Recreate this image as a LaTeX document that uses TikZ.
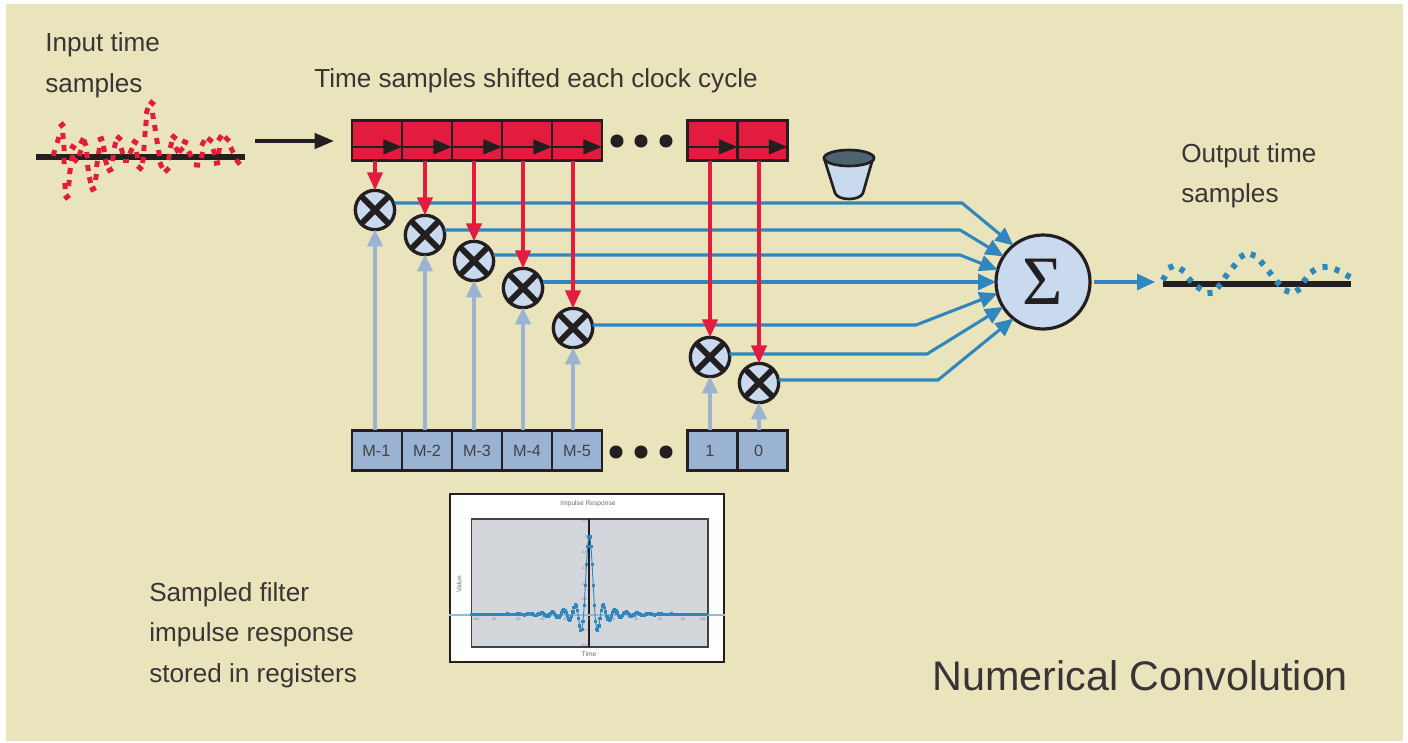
\documentclass[tikz,border=0pt]{standalone}
\usepackage{fontspec}
\setmainfont{Liberation Sans}
\newfontfamily\sigmafont{Liberation Serif}
\usetikzlibrary{arrows.meta,calc,plotmarks}
\definecolor{tan}{HTML}{E9E4BB}
\definecolor{ink}{HTML}{231F20}
\definecolor{regred}{HTML}{E31B3F}
\definecolor{flow}{HTML}{2F87BE}
\definecolor{pale}{HTML}{C9DAEE}
\definecolor{steel}{HTML}{9AB3D3}
\definecolor{plotgray}{HTML}{D3D6DB}
\definecolor{slate}{HTML}{4E6370}
\tikzset{
  cellbox/.style={draw=ink,line width=2.1pt,minimum width=37.5pt,minimum height=30.5pt,inner sep=0pt,outer sep=0pt},
  redcell/.style={cellbox,fill=regred},
  bluecell/.style={cellbox,fill=steel,text=ink!85,font=\fontsize{12.2pt}{14pt}\selectfont},
  mult/.style={circle,draw=ink,fill=pale,line width=2.5pt,minimum size=29.5pt,inner sep=0pt,outer sep=0pt},
  redarrow/.style={draw=regred,line width=2.4pt,-{Triangle[length=13.5pt,width=11.5pt]}},
  coefarrow/.style={draw=steel,line width=2.4pt,-{Triangle[length=12.5pt,width=11.5pt]}},
  sumarrow/.style={draw=flow,line width=2.3pt,-{Triangle[length=13.5pt,width=12pt]}},
  shiftarrow/.style={draw=ink,line width=1.8pt,-{Triangle[length=14pt,width=11pt]}},
  caption/.style={anchor=base west,inner sep=0pt,text=ink!90,font=\fontsize{19.6pt}{23pt}\selectfont},
  dotmark/.style={circle,fill=ink,minimum size=9.8pt,inner sep=0pt},
  axisbar/.style={draw=ink,line width=4.6pt},
  tinylabel/.style={inner sep=0pt,text=ink!60,font=\fontsize{2.6pt}{3pt}\selectfont},
  plotlabel/.style={inner sep=0pt,text=ink!65,font=\fontsize{5pt}{6pt}\selectfont},
}
% one short stroke per listed point, aligned with its two neighbours
\newcommand{\wavedashes}[4]{%
  \foreach \wx/\wy [count=\wi] in {#4}{%
    \ifnum\wi=1
      \xdef\wprev{\wx,\wy}\xdef\wcur{\wx,\wy}%
    \else
      \draw[#1,line width=#2]
        ($(\wcur)+($(\wprev)!#3!(\wx,\wy)$)-(\wprev)$) --
        ($(\wcur)-($(\wprev)!#3!(\wx,\wy)$)+(\wprev)$);
      \xdef\wprev{\wcur}\xdef\wcur{\wx,\wy}%
    \fi
  }%
}
\begin{document}
\begin{tikzpicture}[x=0.75pt,y=-0.75pt]
\useasboundingbox (0,0) rectangle (1408,742);
\fill[white] (0,0) rectangle (1408,742);
\fill[tan] (6,4) rectangle (1403,741);

% texts
\node[caption] (t1) at (45,52) {Input time};
\node[caption] (t2) at (45,93) {samples};
\node[caption] (t3) at (314,87) {Time samples shifted each clock cycle};
\node[caption] (t4) at (1181,162) {Output time};
\node[caption] (t5) at (1181,202) {samples};
\node[caption] (t6) at (149,601) {Sampled filter};
\node[caption] (t7) at (149,641) {impulse response};
\node[caption] (t8) at (149,682) {stored in registers};
\node[caption,font=\fontsize{31pt}{36pt}\selectfont] (title) at (932,690) {Numerical Convolution};

% input wave
\draw[axisbar] (36,157) -- (245,157);
\wavedashes{regred}{3.7pt}{2.3pt}{54/153,58/140,62/125,63/136,64/148,64/161,65/186,67/197,69/183,70/171,72/158,73/147,75/160,80/153,82/141,85/143,87/155,88/168,90/180,93/189,96/177,97/164,99/151,101/139,104/149,106/162,110/170,113/158,115/145,119/138,122/151,126/161,131/151,135/142,137/155,140/168,143/160,144/148,145/134,146/123,147/111,152/103,153/116,155/128,157/141,159/153,161/165,167/170,169/157,171/145,174/137,177/150,181/150,185/142,190/154,197/165,202/155,203/143,210/140,214/152,217/163,219/151,220/138,227/139,232/150,238/162,245/167}
\coordinate (inA) at (255,141);
\coordinate (inB) at (334,141);
\draw[draw=ink,line width=2.4pt,-{Triangle[length=14.5pt,width=11.5pt]}] (inA) -- (inB);

% top registers
\foreach \n/\x in {1/377,2/427,3/477,4/527,5/577,6/712.5,7/762.5}
  \node[redcell] (r\n) at (\x,140.5) {};
\node[dotmark] (dt1) at (617,141) {};
\node[dotmark] (dt2) at (641,141) {};
\node[dotmark] (dt3) at (666,141) {};
% shift arrows inside cells
\foreach \n in {1,...,7}
  \draw[shiftarrow] ([yshift=-4.8pt]r\n.west) -- ([yshift=-4.8pt]r\n.east);

% bottom registers
\foreach \n/\x/\t/\o in {1/377/M-1/-1pt,2/427/M-2/0pt,3/477/M-3/0pt,4/527/M-4/0pt,5/577/M-5/0pt,6/712.5/1/-3.8pt,7/762.5/0/-5.8pt}
  \node[bluecell] (c\n) at (\x,450.5) {\hspace*{\o}\t};
\node[dotmark] (db1) at (616,452) {};
\node[dotmark] (db2) at (641,452) {};
\node[dotmark] (db3) at (666,452) {};

% summing node
\node[circle,draw=ink,fill=pale,line width=2.4pt,minimum size=70.5pt,inner sep=0pt,outer sep=0pt,text=ink,font=\sigmafont\fontsize{52pt}{54pt}\selectfont] (sum) at (1043,282) {Σ};

% multipliers
\foreach \n/\x/\y in {1/375/210,2/425/235,3/474/261,4/523/288,5/573/328,6/710/357,7/759/383}{
  \node[mult] (m\n) at (\x,\y) {};
  \draw[ink,line width=4.4pt] (m\n.45) -- (m\n.225) (m\n.135) -- (m\n.315);
}

% sum connectors
\coordinate (b1) at (962,203);
\coordinate (b2) at (960,230);
\coordinate (b3) at (960,255);
\coordinate (b5) at (916,325);
\coordinate (b6) at (927,354);
\coordinate (b7) at (938,380);
\draw[sumarrow] (m1.east |- b1) -- (b1) -- (sum.129);
\draw[sumarrow] (m2.east |- b2) -- (b2) -- (sum.147);
\draw[sumarrow] (m3.east |- b3) -- (b3) -- (sum.165);
\draw[sumarrow] (m4.east |- sum.west) -- (sum.west);
\draw[sumarrow] (m5.east |- b5) -- (b5) -- (sum.194);
\draw[sumarrow] (m6.east |- b6) -- (b6) -- (sum.212);
\draw[sumarrow] (m7.east |- b7) -- (b7) -- (sum.231);

% register and coefficient arrows, above the sum lines
\foreach \n in {1,...,7}{
  \draw[redarrow] (m\n.north |- r\n.south) -- (m\n.north);
  \draw[coefarrow] (m\n.south |- c\n.north) -- (m\n.south);
}

% output
\coordinate (outB) at (1155,282);
\draw[sumarrow,shorten <=3pt] (sum.east) -- (outB);
\draw[axisbar] (1163,284) -- (1351,284);
\wavedashes{flow}{4.5pt}{1.9pt}{1164/278,1171/267,1182/270,1190/280,1199/288,1210/293,1219/286,1226/276,1234/266,1242/256,1253/255,1262/263,1270/273,1278/283,1287/291,1298/290,1305/280,1313/271,1325/267,1337/270,1348/276,1358/282}

% bucket
\node[inner sep=0pt,minimum size=0pt] (bucket) at (849,158) {};
\draw[ink,fill=pale,line width=2pt,line join=round] (824,158) -- (835,193) .. controls (838,201) and (860,201) .. (863,193) -- (873,158) -- cycle;
\draw[ink,fill=slate,line width=2pt] (bucket) ellipse [x radius=25,y radius=8];

% impulse plot
\node[draw=ink,fill=white,line width=1.5pt,minimum width=205pt,minimum height=126pt,inner sep=0pt] (frame) at (587,578) {};
\node[draw=ink!85,fill=plotgray,line width=1pt,minimum width=177.5pt,minimum height=96pt,inner sep=0pt] (area) at (589.5,583) {};
\draw[ink,line width=0.8pt] (589,519) -- (589,647);
\draw[flow!55!white,line width=1.1pt] (frame.west |- 0,615) -- (frame.east |- 0,615);
\draw[flow,line width=0.7pt]
  plot[mark=square*,mark size=0.85pt,mark options={fill=flow,draw=flow},domain=-351.9:351.9,samples=208] ({589.3+\x/3},{614.3-78.7*exp(-(\x/170)*(\x/170))*sin(10.588*\x)/(0.1848*\x)});
\node[plotlabel] (ptitle) at (588,504) {Impulse Response};
\node[plotlabel,rotate=90] (pval) at (459,584) {Value};
\node[plotlabel] (ptime) at (589,654) {Time};
\foreach \t/\x in {-100/476,-80/494,-60/518,-40/542,-20/565,0/589,20/613,40/636,60/660,80/683,100/703}
  \node[tinylabel] (xl\x) at (\x,619) {\t};
\foreach \t/\y in {1.2/521,1/536,0.8/552,0.6/568,0.4/584,0.2/599,-0.2/630,-0.4/645}
  \node[tinylabel,anchor=east] (yl\y) at (587,\y) {\t};
\end{tikzpicture}
\end{document}
